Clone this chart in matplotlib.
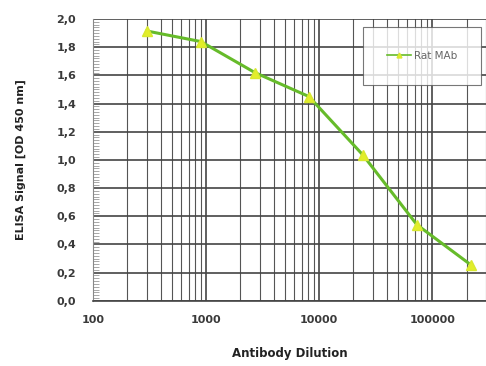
import matplotlib.pyplot as plt
from matplotlib.ticker import FixedLocator, MultipleLocator, FuncFormatter, LogLocator

# dilutions (3-fold series) and OD450 readings
dilution = [300, 900, 2700, 8100, 24300, 72900, 218700]
signal = [1.915, 1.84, 1.62, 1.45, 1.035, 0.54, 0.255]
series_name = "Rat MAb"
x_ticks = [100, 1000, 10000, 100000]

fig = plt.figure(figsize=(4.86, 3.66), dpi=100)
ax = fig.add_axes([0.191, 0.178, 0.81, 0.77])

ax.plot(dilution, signal, color="#66bb2a", linewidth=2.2, marker="^", markersize=7,
        markerfacecolor="#e2ee2a", markeredgecolor="#d8e830", label=series_name, zorder=3)

ax.set_xscale("log")
ax.set_xlim(100, 300000)
ax.set_ylim(0, 2.0)

ax.xaxis.set_major_locator(FixedLocator(x_ticks))
ax.xaxis.set_minor_locator(LogLocator(base=10, subs=range(2, 10)))
ax.xaxis.set_major_formatter(FuncFormatter(lambda v, p: "%d" % v))
ax.xaxis.set_minor_formatter(FuncFormatter(lambda v, p: ""))

ax.yaxis.set_major_locator(MultipleLocator(0.2))
ax.yaxis.set_minor_locator(MultipleLocator(0.02))
ax.yaxis.set_major_formatter(FuncFormatter(lambda v, p: ("%.1f" % v).replace(".", ",")))

ax.grid(True, which="major", color="#444444", linewidth=1.2)
ax.grid(True, which="minor", axis="x", color="#555555", linewidth=0.8)

for s in ["top", "right"]:
    ax.spines[s].set_visible(False)
ax.spines["left"].set_color("#888888")
ax.spines["bottom"].set_color("#444444")
ax.spines["bottom"].set_linewidth(1.2)

ax.tick_params(axis="both", which="major", length=0, labelsize=8, labelcolor="#3a3a3a", pad=12)
ax.tick_params(axis="x", which="major", pad=10)
ax.tick_params(axis="y", which="minor", length=4, color="#999999", direction="in")
ax.tick_params(axis="x", which="minor", length=0)
for lab in ax.get_xticklabels() + ax.get_yticklabels():
    lab.set_fontweight("bold")

ax.set_xlabel("Antibody Dilution", fontsize=8.5, fontweight="bold", color="#222222", labelpad=16)
ax.set_ylabel("ELISA Signal [OD 450 nm]", fontsize=8, fontweight="bold", color="#222222", labelpad=22)

leg = ax.legend(loc="upper right", bbox_to_anchor=(1.0, 0.99), fontsize=7.5, frameon=True,
                fancybox=False, edgecolor="#555555", borderpad=2.3, handlelength=2.3,
                handletextpad=0.3, markerscale=0.5)
leg.get_frame().set_linewidth(0.8)
for t in leg.get_texts():
    t.set_color("#666666")
for h in leg.get_lines():
    h.set_linewidth(1.2)

fig.savefig("out.png", dpi=100)
